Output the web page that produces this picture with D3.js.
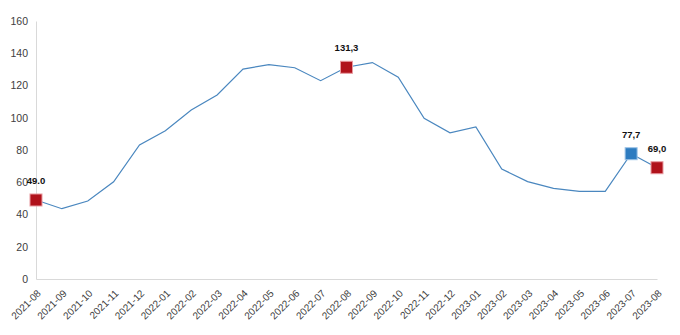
<!DOCTYPE html>
<html>
<head>
<meta charset="utf-8">
<script src="https://cdn.jsdelivr.net/npm/d3@7"></script>
<style>
  html, body { margin: 0; padding: 0; background: #fff; }
  svg { display: block; font-family: "Liberation Sans", Arial, sans-serif; }
</style>
</head>
<body>
<svg id="chart" width="680" height="335"></svg>
<script>
// Monthly series, 2021-08 to 2023-08
const months = ["2021-08","2021-09","2021-10","2021-11","2021-12","2022-01","2022-02","2022-03",
  "2022-04","2022-05","2022-06","2022-07","2022-08","2022-09","2022-10","2022-11","2022-12",
  "2023-01","2023-02","2023-03","2023-04","2023-05","2023-06","2023-07","2023-08"];
const values = [49.0, 43.6, 48.4, 60.3, 83.1, 92.0, 104.8, 114.1, 130.2, 132.9, 131.0, 123.0,
  131.3, 134.2, 125.1, 99.6, 90.7, 94.3, 68.2, 60.4, 56.2, 54.4, 54.4, 77.7, 69.0];
const yTicks = [0, 20, 40, 60, 80, 100, 120, 140, 160];
// Highlighted points: month, printed label, marker colour
const highlightMonths = ["2021-08", "2022-08", "2023-07", "2023-08"];
const highlightLabels = ["49.0", "131,3", "77,7", "69,0"];
const highlightColors = ["#B0121B", "#B0121B", "#2E7CC0", "#B0121B"];

const svg = d3.select("#chart");
const margin = { left: 36, right: 23, top: 21, bottom: 56 };
const W = 680, H = 335;

const x = d3.scalePoint().domain(months).range([margin.left, W - margin.right]);
const y = d3.scaleLinear().domain([0, 160]).range([H - margin.bottom, margin.top]);

// Y axis
const yAxis = svg.append("g")
  .attr("transform", `translate(${margin.left},0)`)
  .call(d3.axisLeft(y).tickValues(yTicks).tickSize(0).tickPadding(8));
yAxis.select(".domain").attr("stroke", "#d9d9d9");
yAxis.selectAll("text").attr("fill", "#404040").attr("font-size", "10.5px");

// X axis
const xAxis = svg.append("g")
  .attr("transform", `translate(0,${H - margin.bottom})`)
  .call(d3.axisBottom(x).tickSize(0).tickPadding(0));
xAxis.select(".domain").attr("stroke", "#d9d9d9");
xAxis.selectAll("text")
  .attr("fill", "#404040")
  .attr("font-size", "10px")
  .attr("text-anchor", "end")
  .attr("dy", 0)
  .attr("transform", "translate(5,15) rotate(-45)");

// Line
const line = d3.line().x((d, i) => x(months[i])).y(d => y(d));
svg.append("path")
  .datum(values)
  .attr("fill", "none")
  .attr("stroke", "#4A87BF")
  .attr("stroke-width", 1.2)
  .attr("d", line);

// Highlight markers and value labels
const hl = highlightMonths.map((m, i) => ({
  m, label: highlightLabels[i], color: highlightColors[i], v: values[months.indexOf(m)]
}));
const s = 12;
svg.selectAll("rect.mk").data(hl).enter().append("rect")
  .attr("class", "mk")
  .attr("x", d => x(d.m) - s / 2)
  .attr("y", d => y(d.v) - s / 2)
  .attr("width", s).attr("height", s)
  .attr("fill", d => d.color)
  .attr("stroke", d => d.color === "#B0121B" ? "#E89AA0" : "#9CC3E6")
  .attr("stroke-width", 1);

svg.selectAll("text.lbl").data(hl).enter().append("text")
  .attr("class", "lbl")
  .attr("x", d => x(d.m))
  .attr("y", d => y(d.v) - 16)
  .attr("text-anchor", "middle")
  .attr("font-size", "9.5px")
  .attr("font-weight", "bold")
  .attr("fill", "#111")
  .text(d => d.label);
</script>
</body>
</html>
